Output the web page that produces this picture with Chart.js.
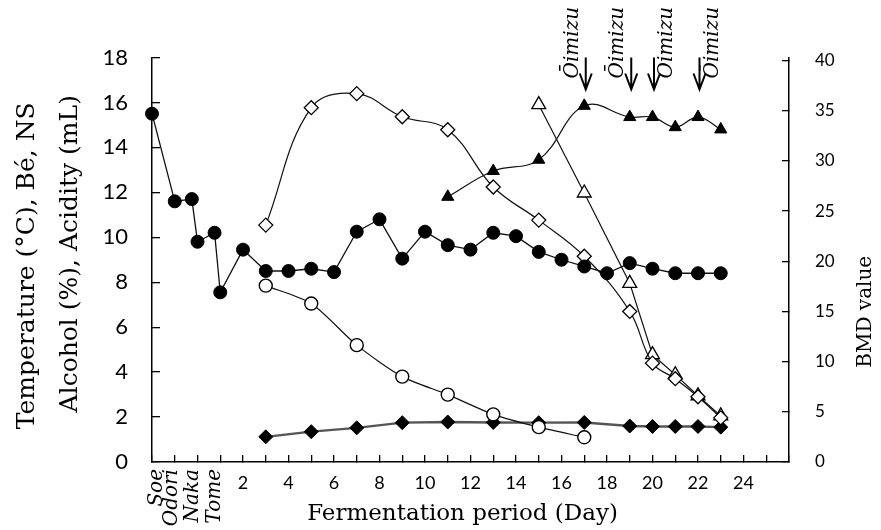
<!DOCTYPE html>
<html><head><meta charset="utf-8">
<script src="https://cdn.jsdelivr.net/npm/chart.js@4.4.1/dist/chart.umd.min.js"></script>
<style>html,body{margin:0;padding:0;background:#fff;overflow:hidden}#box{position:relative;width:881px;height:530px}</style>
</head><body><div id="box"><canvas id="chart" width="881" height="530"></canvas></div>
<script>
// ---------------- data ----------------
const tempDays   = [-2,-1,-0.25,0,0.75,1,2,3,4,5,6,7,8,9,10,11,12,13,14,15,16,17,18,19,20,21,22,23];
const tempValues = [15.5,11.6,11.7,9.8,10.2,7.55,9.45,8.5,8.5,8.6,8.45,10.25,10.8,9.05,10.25,9.65,9.45,10.2,10.05,9.35,9.0,8.7,8.4,8.85,8.6,8.4,8.4,8.4];
const beDays     = [3,5,7,9,11,13,15,17];
const beValues   = [7.85,7.05,5.2,3.8,3.0,2.12,1.55,1.1];
const bmdDays    = [3,5,7,9,11,13,15,17,19,20,21,22,23];
const bmdValues  = [23.6,35.3,36.7,34.4,33.1,27.4,24.1,20.5,15.0,9.85,8.3,6.5,4.4];
const bmd2Days   = [15,17,19,20,21,22,23];
const bmd2Values = [35.6,26.8,17.8,10.7,8.7,6.6,4.6];
const alcDays    = [11,13,15,17,19,20,21,22,23];
const alcValues  = [11.8,12.95,13.45,15.85,15.35,15.35,14.9,15.35,14.8];
const acidDays   = [3,5,7,9,11,13,15,17,19,20,21,22,23];
const acidValues = [1.12,1.35,1.52,1.75,1.78,1.76,1.75,1.76,1.6,1.58,1.58,1.58,1.55];

const dayTicks    = [-2,-1,0,1,2,3,4,5,6,7,8,9,10,11,12,13,14,15,16,17,18,19,20,21,22,23,24,25,26];
const xTickLabels = [2,4,6,8,10,12,14,16,18,20,22,24];
const leftTicks   = [0,2,4,6,8,10,12,14,16,18];
const rightTicks  = [0,5,10,15,20,25,30,35,40];
const stageLabels = ['Soe','Odori','Naka','Tome'];
const stageDays   = [-1.8,-1.15,-0.2,0.77];
const oimizuDays  = [17,19,20,22];
const oimizuSide  = [-1,-1,1,1];
const oimizuText  = 'Ōimizu';
const xTitle      = 'Fermentation period (Day)';
const leftTitle   = ['Temperature (°C), Bé, NS','Alcohol (%), Acidity (mL)'];
const rightTitle  = 'BMD value';

// ---------------- chart ----------------
const pts = (xs, ys) => xs.map((d, i) => ({x: d, y: ys[i]}));
const INK = '#111';

const datasets = [
  {label:'Temperature', data: pts(tempDays,tempValues), yAxisID:'y', borderColor:INK, borderWidth:1.3, tension:0,
   pointStyle:'circle', pointRadius:6.5, pointBackgroundColor:'#000', pointBorderColor:'#000', pointBorderWidth:1},
  {label:'Bé', data: pts(beDays,beValues), yAxisID:'y', borderColor:INK, borderWidth:1.2, tension:0.25,
   pointStyle:'circle', pointRadius:6.5, pointBackgroundColor:'#fff', pointBorderColor:'#000', pointBorderWidth:1.4},
  {label:'BMD', data: pts(bmdDays,bmdValues), yAxisID:'y1', borderColor:INK, borderWidth:1.2, tension:0.4,
   pointStyle:'rectRot', pointRadius:7, pointBackgroundColor:'#fff', pointBorderColor:'#000', pointBorderWidth:1.3},
  {label:'BMD (NS)', data: pts(bmd2Days,bmd2Values), yAxisID:'y1', borderColor:INK, borderWidth:1.2, tension:0,
   pointStyle:'triangle', pointRadius:8, pointBackgroundColor:'#fff', pointBorderColor:'#000', pointBorderWidth:1.3},
  {label:'Alcohol', data: pts(alcDays,alcValues), yAxisID:'y', borderColor:INK, borderWidth:1.2, tension:0.4,
   pointStyle:'triangle', pointRadius:7, pointBackgroundColor:'#000', pointBorderColor:'#000', pointBorderWidth:1},
  {label:'Acidity', data: pts(acidDays,acidValues), yAxisID:'y', borderColor:'#555', borderWidth:2.4, tension:0,
   pointStyle:'rectRot', pointRadius:7, pointBackgroundColor:'#000', pointBorderColor:'#000', pointBorderWidth:1}
].map(d => Object.assign(d, {showLine:true, fill:false, clip:false}));

function rotText(ctx, text, x, y, align) {
  ctx.save(); ctx.translate(x, y); ctx.rotate(-Math.PI/2);
  ctx.textAlign = align; ctx.textBaseline = 'middle';
  ctx.fillText(text, 0, 0); ctx.restore();
}

const annotations = {
  id: 'annotations',
  afterDraw(chart) {
    const {ctx, chartArea: ca, scales: {x}} = chart;
    ctx.save();
    ctx.fillStyle = '#000'; ctx.strokeStyle = '#000';
    // axis titles
    ctx.font = '25px "DejaVu Serif"';
    const cy = (ca.top + ca.bottom) / 2;
    rotText(ctx, leftTitle[0], ca.left - 125, cy + 6, 'center');
    rotText(ctx, leftTitle[1], ca.left - 82, cy - 6, 'center');
    ctx.font = '20px "DejaVu Serif"';
    rotText(ctx, rightTitle, ca.right + 77, cy + 52, 'center');
    ctx.font = '23px "DejaVu Serif"';
    ctx.textAlign = 'center'; ctx.textBaseline = 'middle';
    ctx.fillText(xTitle, (ca.left + ca.right) / 2 - 8, ca.bottom + 52);
    // stage labels under the axis
    ctx.font = 'italic 20px "DejaVu Serif"';
    stageLabels.forEach((s, i) => rotText(ctx, s, x.getPixelForValue(stageDays[i]), ca.bottom + 7, 'right'));
    // Oimizu arrows
    ctx.lineWidth = 2;
    ctx.font = 'italic 20px "DejaVu Serif"';
    oimizuDays.forEach((d, i) => {
      const px = x.getPixelForValue(d) + 1.5;
      const top = ca.top, bot = ca.top + 32;
      ctx.beginPath();
      ctx.moveTo(px, top); ctx.lineTo(px, bot);
      ctx.moveTo(px - 6, bot - 16); ctx.lineTo(px, bot); ctx.lineTo(px + 6, bot - 16);
      ctx.stroke();
      rotText(ctx, oimizuText, px + oimizuSide[i] * 13, ca.top + 21, 'left');
    });
    ctx.restore();
  }
};

const gridOpts = (len) => ({display:true, drawOnChartArea:false, drawTicks:true, tickLength:len, color:'#000', lineWidth:1.3});
const borderOpts = {display:true, color:'#000', width:1.5};

new Chart(document.getElementById('chart'), {
  type: 'scatter',
  data: {datasets},
  options: {
    responsive:false, animation:false, devicePixelRatio:1,
    layout:{padding:{top:57.5, left:0, right:0, bottom:0}},
    plugins:{legend:{display:false}, tooltip:{enabled:false}},
    scales:{
      x:{type:'linear', position:'bottom', min:-2, max:26,
         afterFit(s){ s.height = 68; },
         afterBuildTicks(s){ s.ticks = dayTicks.map(v => ({value:v})); },
         ticks:{autoSkip:false, maxRotation:0, minRotation:0, padding:17, color:'#000',
                font:{family:'Lato', size:18}, callback:(v) => xTickLabels.includes(v) ? String(v) : ''},
         grid:gridOpts(-7), border:borderOpts},
      y:{type:'linear', position:'left', min:0, max:18,
         afterFit(s){ s.width = 152; },
         afterBuildTicks(s){ s.ticks = leftTicks.map(v => ({value:v})); },
         ticks:{padding:32, color:'#000', font:{family:'Lato', size:22}},
         grid:gridOpts(-8), border:borderOpts},
      y1:{type:'linear', position:'right', min:0, max:40.3,
         afterFit(s){ s.width = 92; },
         afterBuildTicks(s){ s.ticks = rightTicks.map(v => ({value:v})); },
         ticks:{padding:33, color:'#000', font:{family:'Lato', size:17}},
         grid:gridOpts(-7), border:borderOpts}
    }
  },
  plugins:[annotations]
});
</script></body></html>
